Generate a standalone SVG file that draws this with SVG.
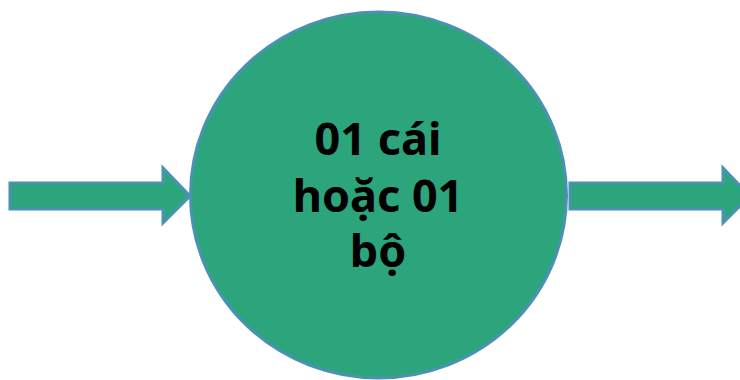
<svg xmlns="http://www.w3.org/2000/svg" width="740" height="380" viewBox="0 0 740 380">
  <style>
    .shape { fill: #2ca57d; stroke: #4a92b4; stroke-width: 3; stroke-linejoin: miter; }
    .label { font-family: "Noto Sans", "Open Sans", sans-serif; font-weight: bold; font-size: 45px; fill: #000; text-anchor: middle; }
  </style>
  <rect width="740" height="380" fill="#ffffff"/>
  <g id="connectors">
    <path class="shape" d="M10,183 L163,183 L163,168 L190,196 L163,223 L163,209 L10,209 Z"/>
    <path class="shape" d="M570,183 L723,183 L723,168 L750,196 L723,223 L723,209 L570,209 Z"/>
  </g>
  <g id="node-main">
    <ellipse class="shape" cx="378.5" cy="195" rx="188" ry="183"/>
    <text class="label" x="378" y="155">01 cái</text>
    <text class="label" x="378" y="212">hoặc 01</text>
    <text class="label" x="378" y="267">bộ</text>
  </g>
</svg>
